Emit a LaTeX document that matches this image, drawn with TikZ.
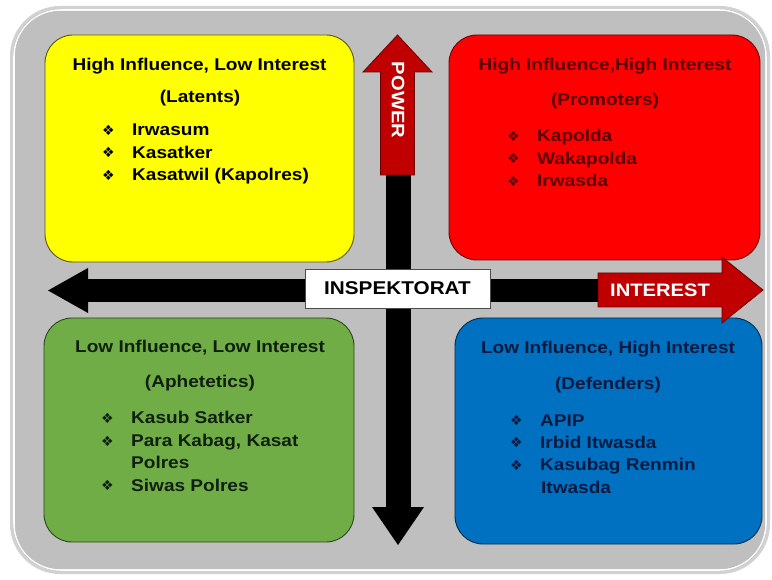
\documentclass[tikz,border=0pt]{standalone}
\usepackage{fontspec}
\setmainfont{Liberation Sans}[FakeStretch=1.12]
\newfontfamily\symfont{DejaVu Sans}
\definecolor{bggray}{RGB}{191,191,191}
\definecolor{rimgray}{RGB}{210,210,210}
\definecolor{qyellow}{RGB}{255,255,0}
\definecolor{qred}{RGB}{255,0,0}
\definecolor{qgreen}{RGB}{112,173,71}
\definecolor{qblue}{RGB}{0,112,192}
\definecolor{arrred}{RGB}{192,0,0}
\definecolor{txtred}{RGB}{88,0,0}
\definecolor{txtgreen}{RGB}{16,32,16}
\definecolor{txtblue}{RGB}{10,26,64}
\newcommand{\bul}{\makebox[30pt][l]{\symfont\fontsize{14}{14}\selectfont\raisebox{0.5pt}{❖}}}
\begin{document}
\begin{tikzpicture}[x=1pt,y=-1pt,
  quad/.style={rounded corners=28pt, line width=0.9pt, inner sep=0pt},
  body/.style={font=\fontsize{17}{20}\selectfont\bfseries, inner sep=0pt},
  title/.style={body, anchor=base},
  item/.style={body, anchor=base west},
  arrowlabel/.style={font=\fontsize{18}{20}\selectfont\bfseries, text=white, inner sep=0pt}
]
\useasboundingbox (0,0) rectangle (772,580);
% background panel
\fill[rimgray, rounded corners=50pt] (10,6) rectangle (770,574);
\fill[bggray, rounded corners=47pt] (13,9) rectangle (767,571);
\draw[white, line width=1.6pt, rounded corners=47pt] (14,10) rectangle (766,570);
\fill[bggray, rounded corners=45pt] (15,11) rectangle (765,569);

% quadrants
\node[quad, draw=black!65!qyellow, fill=qyellow, minimum width=309pt, minimum height=227pt] (yel) at (199.5,148.5) {};
\node[quad, draw=black!55!qred, fill=qred, minimum width=311pt, minimum height=225pt] (red) at (604.5,147.5) {};
\node[quad, draw=black!60!qgreen, fill=qgreen, minimum width=310pt, minimum height=224pt] (grn) at (199,430) {};
\node[quad, draw=black!60!qblue, fill=qblue, minimum width=307pt, minimum height=226pt] (blu) at (608.5,431) {};

% yellow text
\node[title] (yt) at (199.5,71) {High Influence, Low Interest};
\node[title] (ys) at (200,103) {(Latents)};
\node[item] (y1) at (102,136) {\bul Irwasum};
\node[item] (y2) at (102,158.5) {\bul Kasatker};
\node[item] (y3) at (102,181) {\bul Kasatwil (Kapolres)};

% red text
\node[title, text=txtred] (rt) at (605,71) {High Influence,High Interest};
\node[title, text=txtred] (rs) at (605,106) {(Promoters)};
\node[item, text=txtred] (r1) at (507,142) {\bul Kapolda};
\node[item, text=txtred] (r2) at (507,164.5) {\bul Wakapolda};
\node[item, text=txtred] (r3) at (507,187) {\bul Irwasda};

% green text
\node[title, text=txtgreen] (gt) at (200,353) {Low Influence, Low Interest};
\node[title, text=txtgreen] (gs) at (200,388) {(Aphetetics)};
\node[item, text=txtgreen] (g1) at (101,424) {\bul Kasub Satker};
\node[item, text=txtgreen] (g2) at (101,446.5) {\bul Para Kabag, Kasat};
\node[item, text=txtgreen] (g3) at (131,468.5) {Polres};
\node[item, text=txtgreen] (g4) at (101,491) {\bul Siwas Polres};

% blue text
\node[title, text=txtblue] (bt) at (608,354) {Low Influence, High Interest};
\node[title, text=txtblue] (bs) at (608,390) {(Defenders)};
\node[item, text=txtblue] (b1) at (510,426) {\bul APIP};
\node[item, text=txtblue] (b2) at (510,448) {\bul Irbid Itwasda};
\node[item, text=txtblue] (b3) at (510,470.5) {\bul Kasubag Renmin};
\node[item, text=txtblue] (b4) at (541,493) {Itwasda};

% axes
\fill[black] (88,279) rectangle (600,302);
\fill[black] (88,268) -- (48,290.5) -- (88,313) -- cycle;
\fill[black] (385.5,174) rectangle (410.5,508);
\fill[black] (372,507) -- (398,545) -- (424,507) -- cycle;

% POWER arrow
\draw[fill=arrred, draw=black!45!arrred, line width=0.8pt]
  (380.5,175) -- (380.5,72) -- (363,72) -- (397.5,35) -- (432,72) -- (414.5,72) -- (414.5,175) -- cycle;
\node[arrowlabel, rotate=-90] (pw) at (398,100) {POWER};

% INTEREST arrow
\draw[fill=arrred, draw=black!45!arrred, line width=0.8pt]
  (598,273) -- (722,273) -- (722,257) -- (763,290) -- (722,323) -- (722,307) -- (598,307) -- cycle;
\node[arrowlabel] (it) at (660,290) {INTEREST};

% centre label
\node[draw=black!70, line width=0.8pt, fill=white, minimum width=185pt, minimum height=39pt,
  font=\fontsize{18.5}{20}\selectfont\bfseries, inner sep=0pt] (insp) at (397.5,288.5) {INSPEKTORAT};
\end{tikzpicture}
\end{document}
